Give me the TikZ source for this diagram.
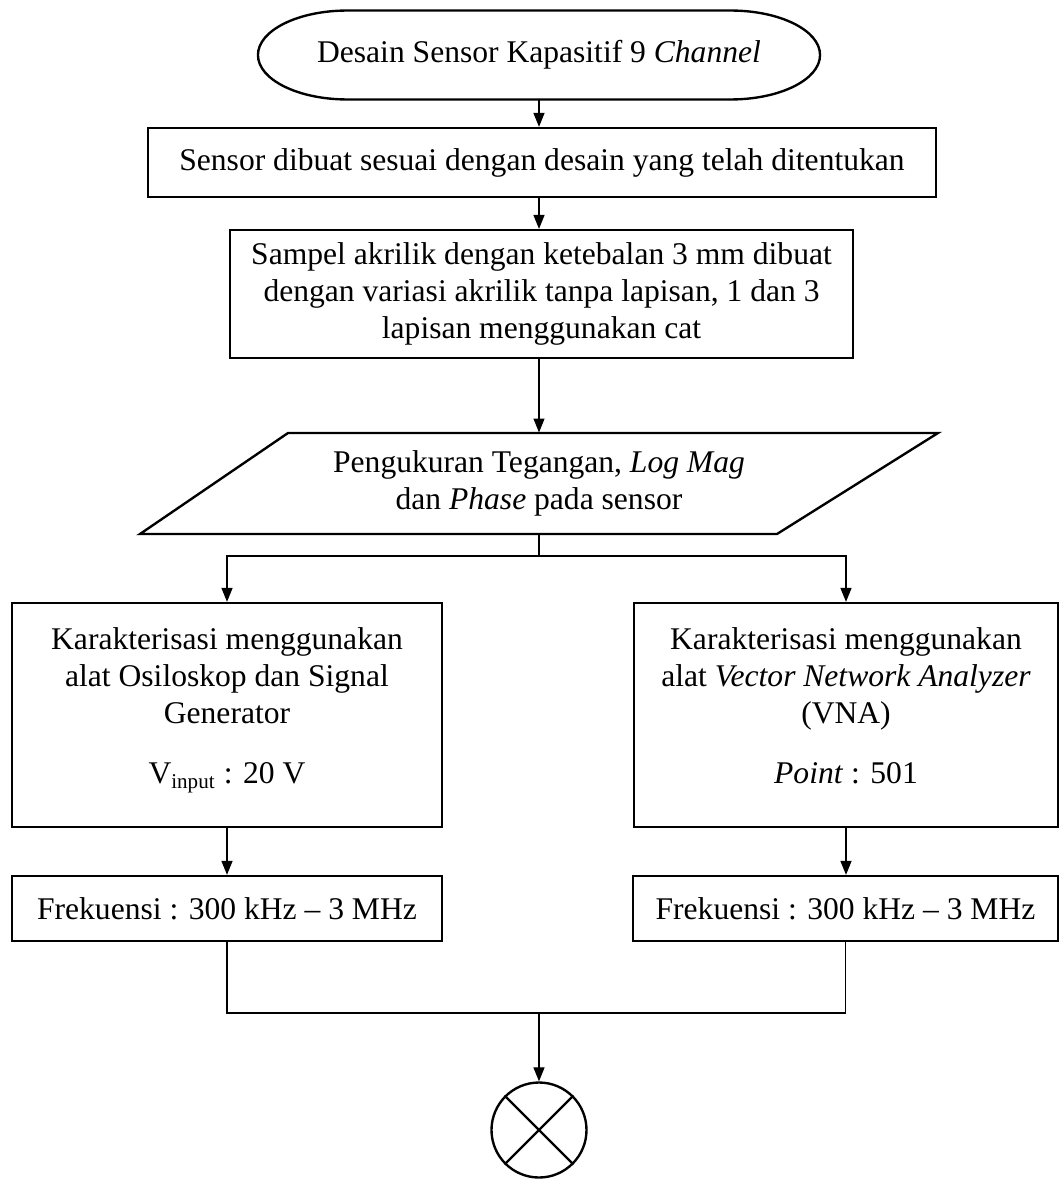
\documentclass[tikz,border=0pt]{standalone}
\usepackage{fontspec}
\setmainfont{Liberation Serif}
\usetikzlibrary{arrows.meta}

\begin{document}
\begin{tikzpicture}[x=0.38pt, y=-0.38pt,
		kotak/.style={draw, line width=0.9pt, align=center, inner xsep=2pt, font=\fontsize{12}{14}\selectfont},
		garis/.style={line width=0.45pt},
		panah/.style={line width=0.45pt, -{Triangle[length=5.3pt, width=4.2pt]}}]

		\useasboundingbox (0,0) rectangle (1060,1180);

		\node[outer sep=0pt, minimum width=213.6pt, minimum height=33.8pt, font=\fontsize{12}{14}\selectfont] (desain) at (539,55) {Desain Sensor Kapasitif 9 \textit{Channel}};
		\draw[line width=0.9pt] ([xshift=34pt]desain.north west) -- ([xshift=-34pt]desain.north east)
			arc[start angle=90, end angle=-90, x radius=34pt, y radius=16.9pt]
			-- ([xshift=34pt]desain.south west)
			arc[start angle=-90, end angle=-270, x radius=34pt, y radius=16.9pt] -- cycle;

		\node[kotak, minimum width=299.4pt, minimum height=26.2pt] (sensor) at (542,162.5) {Sensor dibuat sesuai dengan desain yang telah ditentukan};
		\node[kotak, minimum width=236.7pt, minimum height=48.6pt] (sampel) at (541.5,294) {Sampel akrilik dengan ketebalan 3 mm dibuat\\dengan variasi akrilik tanpa lapisan, 1 dan 3\\lapisan menggunakan cat};

		\node[align=center, minimum height=38.4pt, font=\fontsize{12}{14}\selectfont] (ukur) at (539,483.5) {Pengukuran Tegangan, \textit{Log Mag}\\dan \textit{Phase} pada sensor};
		\draw[line width=0.9pt] (288,433) -- (938,433) -- (777,534) -- (140,534) -- cycle;

		\node[kotak, minimum width=163.4pt, minimum height=85.1pt] (osilo) at (227,715) {Karakterisasi menggunakan\\alat Osiloskop dan Signal\\Generator\\[9pt]V\textsubscript{input} : 20 V\rule[-7pt]{0pt}{7pt}};
		\node[kotak, minimum width=161.1pt, minimum height=85.1pt] (vna) at (846,715) {Karakterisasi menggunakan\\alat \textit{Vector Network Analyzer}\\(VNA)\\[9pt]\textit{Point} : 501\rule[-7pt]{0pt}{7pt}};

		\node[kotak, minimum width=163.4pt, minimum height=24.7pt] (frek1) at (227,908.5) {Frekuensi : 300 kHz -- 3 MHz};
		\node[kotak, minimum width=161.5pt, minimum height=24.7pt] (frek2) at (845.5,908.5) {Frekuensi : 300 kHz -- 3 MHz};

		\node[draw, circle, line width=0.9pt, minimum size=36.1pt] (akhir) at (539,1130) {};
		\draw[line width=0.9pt] (akhir.north west) -- (akhir.south east) (akhir.north east) -- (akhir.south west);

		\coordinate (cabang) at (539,556);
		\coordinate (gabung) at (539,1013);

		\draw[panah] (desain.south) -- (desain.south |- sensor.north);
		\draw[panah] (sensor.south -| desain.south) -- (desain.south |- sampel.north);
		\draw[panah] (sampel.south -| desain.south) -- (ukur.north);
		\draw[garis] (ukur.south) -- (cabang);
		\draw[panah] (cabang) -| (osilo.north);
		\draw[panah] (cabang) -| (vna.north);
		\draw[panah] (osilo) -- (frek1);
		\draw[panah] (vna.south) -- (vna.south |- frek2.north);
		\draw[garis] (frek1.south) |- (gabung) -| (frek2.south);
		\draw[panah] (gabung) -- (akhir.north);
	\end{tikzpicture}
\end{document}
